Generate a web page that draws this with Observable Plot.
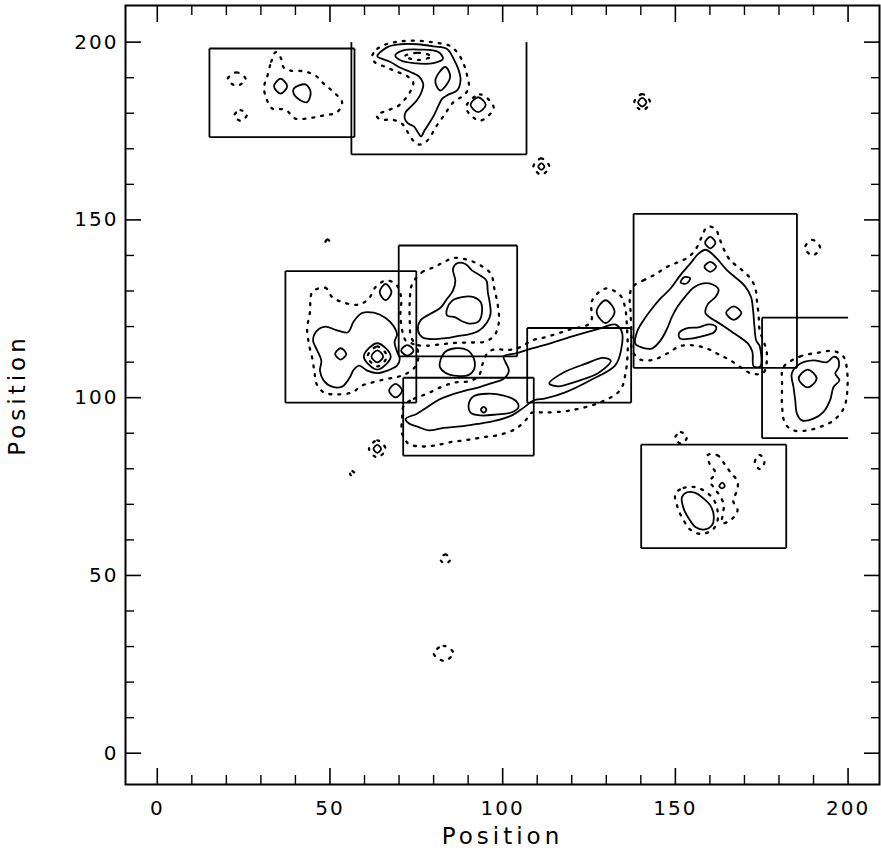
<!DOCTYPE html>
<html><head><meta charset="utf-8">
<script src="https://cdn.jsdelivr.net/npm/d3@7"></script>
<script src="https://cdn.jsdelivr.net/npm/@observablehq/plot@0.6"></script>
<style>
html,body{margin:0;padding:0;background:#fff;}
#chart svg{display:block;}
#chart g[aria-label="text"] text{letter-spacing:4px;}
#chart g[aria-label$="tick label"] text{letter-spacing:2px;}
</style></head><body><div id="chart"></div>
<script>
// ---- axis ticks ----
const tickMajor = [0, 50, 100, 150, 200];
const tickMinor = [10, 20, 30, 40, 60, 70, 80, 90, 110, 120, 130, 140, 160, 170, 180, 190];
const axisTitle = "Position";
const plotLimit = 200;

// ---- boxes (x1, x2, y1, y2) ----
const boxX1 = [15.1, 56.2, 37.1, 69.9, 71.2, 107.1, 137.9, 175.1, 140.1];
const boxX2 = [57.1, 106.9, 75.0, 104.2, 109.0, 137.2, 185.2, 200, 182.1];
const boxY1 = [173.3, 168.4, 98.6, 111.6, 83.7, 98.6, 108.4, 88.6, 57.7];
const boxY2 = [198.2, 200, 135.6, 142.8, 105.6, 119.6, 151.7, 122.5, 86.8];

// ---- solid contours ----
const solidBox1a = [[33.8,187.6],[35.7,189.7],[37.6,187.6],[35.7,185.5]];
const solidBox1b = [[39.5,186.9],[42.9,188.1],[44.4,186.0],[43.4,183.1],[41.5,183.6],[39.5,185.5]];
const solidBox2Main = [[63.7,196.0],[66.6,198.6],[70.4,199.4],[75.3,199.4],[80.1,198.8],[83.9,198.1],[85.8,195.3],[87.3,192.0],[87.8,189.2],[86.8,186.4],[84.4,185.3],[82.5,184.1],[81.2,181.7],[80.1,179.4],[78.6,177.0],[77.4,175.2],[76.4,173.5],[75.4,174.7],[74.3,176.3],[72.5,177.2],[71.6,178.7],[71.9,180.3],[73.5,181.9],[75.1,183.6],[76.4,185.7],[77.0,188.3],[75.7,190.4],[73.3,191.6],[70.4,192.8],[67.5,194.4],[65.1,195.3]];
const solidBox2Oval = [[68.9,196.3],[71.3,197.7],[76.1,197.9],[81.4,197.2],[82.7,195.3],[80.0,194.1],[74.2,194.1],[70.4,194.9]];
const solidBox2Right = [[83.4,193.0],[84.8,190.2],[81.9,186.4],[80.5,189.2]];
const solidBox2Spot = [[90.7,182.4],[92.9,184.5],[95.1,182.4],[92.9,180.3]];
const solidBox3Main = [[46.3,118.9],[48.7,120.0],[51.6,119.1],[55.2,118.4],[56.9,121.5],[59.3,123.8],[62.7,123.9],[66.1,122.4],[68.3,120.3],[69.4,117.8],[68.7,115.6],[69.3,113.3],[70.2,110.9],[69.4,109.0],[66.6,107.6],[63.7,106.9],[60.8,107.6],[58.4,109.0],[56.7,107.6],[55.8,105.8],[53.5,103.1],[50.6,103.1],[48.2,104.8],[47.1,107.6],[47.5,110.4],[46.3,113.3],[45.1,116.1]];
const solidBox3Spot = [[51.5,112.3],[53.1,113.9],[54.7,112.3],[53.1,110.7]];
const solidBox3Top = [[64.4,129.7],[66.1,132.0],[67.8,129.7],[66.1,127.4]];
const solidRingOuter = [[59.8,111.6],[63.7,115.3],[67.6,111.6],[63.7,107.9]];
const solidRingInner = [[62.0,111.6],[63.7,113.3],[65.4,111.6],[63.7,109.9]];
const solidSpotA = [[70.6,113.3],[72.4,114.8],[74.2,113.3],[72.4,111.8]];
const solidSpotB = [[67.1,102.0],[69.0,103.9],[70.9,102.0],[69.0,100.1]];
const solidBox4Outer = [[75.5,118.9],[76.2,121.7],[79.1,123.6],[82.0,125.3],[83.9,127.8],[85.6,130.1],[86.3,132.9],[85.6,136.2],[86.8,137.8],[89.2,137.6],[91.1,135.8],[93.6,134.3],[95.3,132.9],[95.7,129.7],[96.3,126.4],[96.5,123.6],[95.5,121.2],[93.1,118.8],[90.2,117.8],[87.3,117.4],[84.9,116.9],[82.0,116.6],[78.9,116.5],[76.7,117.0]];
const solidBox4Inner = [[83.9,125.0],[85.4,127.3],[88.2,128.3],[91.6,128.3],[93.6,126.9],[94.0,124.0],[93.1,121.5],[90.7,120.8],[88.2,121.5],[86.3,122.6],[83.9,123.1]];
const solidBlobMid = [[82.0,110.6],[83.4,112.9],[86.3,113.9],[89.7,113.4],[91.6,111.1],[91.8,108.2],[90.2,106.4],[86.8,106.1],[83.4,107.0],[81.8,108.7]];
const solidFilament = [[71.9,94.0],[75.2,95.5],[78.1,97.3],[81.5,99.4],[85.4,100.9],[89.2,102.0],[93.1,102.9],[96.9,104.1],[100.3,105.3],[101.8,107.6],[100.8,110.0],[100.3,111.6],[104.2,112.5],[108.0,113.7],[113.8,115.3],[121.1,117.5],[128.3,119.5],[132.5,120.6],[134.5,118.5],[134.3,113.5],[132.6,109.1],[125.4,104.9],[118.1,101.5],[112.4,99.8],[108.9,99.2],[106.1,97.2],[102.2,94.8],[97.4,93.4],[92.6,92.6],[87.8,91.9],[82.9,91.5],[78.6,90.8],[75.7,91.7],[72.8,92.8]];
const solidBox5Inner = [[90.2,98.3],[91.6,100.4],[95.5,101.1],[100.3,100.6],[103.7,99.2],[104.6,97.4],[102.7,95.9],[98.4,95.3],[93.6,95.0],[90.7,95.8]];
const solidBox5Spot = [[93.7,96.6],[94.5,97.4],[95.3,96.6],[94.5,95.8]];
const solidBox6Inner = [[113.5,104.0],[117.5,107.0],[123.9,109.5],[129.0,111.2],[131.3,110.4],[127.8,107.0],[121.5,104.6],[116.0,103.2]];
const solidBox6Top = [[127.2,124.2],[129.8,127.4],[132.4,124.2],[129.8,121.0]];
const solidBox7Arch = [[138.4,115.2],[138.9,118.5],[140.8,121.8],[143.2,125.0],[145.7,127.9],[148.6,130.7],[151.4,134.4],[154.3,137.7],[156.7,140.5],[158.7,141.6],[160.6,140.5],[162.5,138.6],[165.0,135.8],[167.8,133.5],[170.2,131.3],[171.9,128.3],[172.5,124.6],[172.9,119.9],[173.4,116.1],[174.4,114.5],[174.6,108.8],[172.7,108.8],[172.3,112.9],[171.2,115.0],[168.8,116.9],[166.4,118.5],[164.0,120.1],[161.6,121.6],[160.1,122.5],[158.7,123.8],[159.4,126.3],[161.6,128.3],[162.5,130.4],[160.6,131.9],[157.7,132.1],[155.3,131.0],[152.9,128.5],[150.7,125.7],[149.0,122.7],[147.6,119.4],[145.7,116.1],[143.2,113.8],[140.4,114.1]];
const solidBox7Low = [[151.0,118.0],[153.0,119.4],[156.7,119.8],[159.8,120.6],[161.8,119.9],[161.2,118.4],[158.2,117.4],[154.3,116.6],[151.4,116.6]];
const solidBox7SpotA = [[158.6,143.6],[160.1,145.2],[161.6,143.6],[160.1,142.0]];
const solidBox7SpotB = [[158.4,136.8],[160.1,138.2],[161.8,136.8],[160.1,135.4]];
const solidBox7SpotC = [[151.5,132.4],[152.6,133.9],[154.3,133.6],[153.2,132.1]];
const solidBox7SpotD = [[164.7,123.8],[166.9,125.7],[169.1,123.8],[166.9,121.9]];
const solidBox8Outer = [[183.7,106.8],[186.2,109.6],[190.0,110.5],[193.9,110.0],[195.8,111.5],[197.0,111.0],[197.3,108.6],[196.3,106.8],[197.5,104.9],[195.8,103.0],[194.8,99.3],[192.9,96.0],[190.0,94.1],[186.6,93.6],[185.2,95.5],[184.7,99.3],[184.2,103.0]];
const solidBox8Inner = [[185.7,105.4],[188.3,107.9],[190.9,105.4],[188.3,102.9]];
const solidBox9Blob = [[151.9,72.0],[153.4,73.4],[155.8,73.2],[158.2,71.6],[160.1,69.7],[161.1,66.9],[160.6,64.1],[158.2,62.9],[155.8,63.6],[153.9,66.0],[152.4,68.8]];
const solidBox9Spot = [[162.7,75.1],[163.6,76.1],[164.3,75.1],[163.5,74.5]];
const solidSpotLow = [[62.6,85.6],[63.7,86.7],[64.8,85.6],[63.7,84.5]];
const solidSpot165 = [[110.3,165.0],[111.2,165.9],[112.1,165.0],[111.2,164.1]];
const solidSpot183 = [[139.2,183.1],[140.4,184.3],[141.6,183.1],[140.4,181.9]];

// ---- dotted contours ----
const dotBox1a = [[20.4,189.6],[23.0,191.5],[25.6,189.6],[23.0,187.7]];
const dotBox1b = [[22.3,179.4],[24.1,180.9],[25.9,179.4],[24.1,177.9]];
const dotBox1Main = [[31.8,190.2],[33.0,194.5],[34.3,197.2],[35.8,195.5],[36.5,193.0],[38.6,192.0],[42.4,191.8],[45.8,190.6],[48.2,188.3],[51.1,185.9],[53.5,183.1],[52.1,180.3],[48.2,179.4],[44.4,178.7],[40.0,178.5],[37.1,181.0],[33.3,181.3],[31.6,184.1],[30.9,187.3]];
const dotBox2Main = [[62.2,196.0],[63.7,198.1],[66.6,199.5],[70.4,200.2],[75.3,200.4],[80.1,199.9],[84.4,199.1],[86.8,197.2],[88.7,193.9],[89.7,190.6],[90.2,187.3],[88.7,185.0],[86.3,183.6],[84.7,181.9],[83.4,179.9],[82.0,178.0],[80.5,175.9],[79.3,173.8],[77.7,171.9],[75.7,171.2],[74.1,172.3],[72.5,174.7],[70.9,177.0],[68.0,178.2],[64.6,178.2],[63.5,179.4],[66.1,180.6],[69.5,181.9],[71.6,183.8],[73.3,186.2],[74.1,188.7],[72.4,190.4],[69.0,191.8],[65.6,193.2],[62.9,194.4]];
const dotBox2Oval = [[71.5,196.0],[75.5,197.0],[79.5,196.0],[75.5,195.0]];
const dotBox2Ring = [[89.4,181.6],[93.4,185.3],[97.4,181.6],[93.4,177.9]];
const dotRing165 = [[108.9,165.0],[111.2,167.3],[113.5,165.0],[111.2,162.7]];
const dotRing183 = [[138.1,183.1],[140.4,185.4],[142.7,183.1],[140.4,180.8]];
const dotTiny144 = [[48.7,143.9],[49.3,144.5],[49.9,143.9],[49.3,143.3]];
const dotRing142 = [[187.5,142.2],[189.7,144.4],[191.9,142.2],[189.7,140.0]];
const dotBox3Main = [[44.9,129.7],[48.7,130.9],[50.6,128.3],[54.5,126.6],[58.4,126.2],[61.2,127.8],[63.2,131.1],[66.1,132.9],[69.0,132.0],[70.6,128.3],[70.4,123.6],[70.9,118.9],[71.9,116.1],[74.8,114.6],[75.6,111.5],[74.5,108.5],[71.8,106.6],[69.4,105.8],[66.5,105.3],[62.7,104.4],[59.3,103.4],[56.4,101.5],[52.1,100.9],[48.2,101.5],[46.1,103.9],[45.5,107.2],[44.9,110.9],[43.9,115.1],[43.4,119.4],[44.2,124.0]];
const dotRingMid = [[60.9,111.6],[63.7,114.4],[66.5,111.6],[63.7,108.8]];
const dotBox4Main = [[73.8,132.0],[76.7,135.3],[80.1,136.7],[82.9,138.1],[85.8,139.3],[89.7,138.8],[93.6,137.2],[96.6,134.8],[97.6,130.6],[98.6,125.9],[98.9,121.2],[97.6,117.5],[95.0,115.8],[90.7,115.5],[86.3,115.4],[82.0,115.0],[78.1,114.6],[75.2,114.9],[73.5,117.0],[73.1,121.7],[73.1,126.9]];
const dotFilament = [[71.4,97.8],[74.3,99.7],[78.1,101.1],[82.0,102.9],[85.8,104.2],[90.0,104.6],[93.0,106.0],[94.2,109.5],[95.8,112.8],[98.0,113.6],[101.3,113.4],[105.1,114.2],[108.5,116.1],[112.4,117.0],[119.6,119.2],[125.4,121.1],[125.9,127.3],[129.8,130.7],[134.1,128.7],[135.5,125.0],[136.0,119.5],[136.2,113.0],[135.6,107.0],[134.0,102.1],[128.3,98.7],[119.6,96.4],[112.4,95.8],[108.5,95.8],[106.6,93.6],[103.7,91.2],[99.3,89.6],[94.5,88.9],[89.7,88.1],[84.9,87.5],[80.1,86.5],[76.2,86.3],[72.8,87.0],[70.9,89.8],[70.9,94.5]];
const dotBox7Main = [[137.5,131.1],[140.8,133.0],[144.2,134.7],[147.6,136.8],[151.0,138.2],[153.9,139.6],[156.3,142.4],[157.7,145.4],[159.2,148.0],[161.6,147.5],[162.8,144.7],[164.2,141.4],[165.9,138.6],[168.8,136.3],[171.5,133.8],[173.1,131.0],[173.6,127.4],[174.1,123.2],[174.4,119.0],[175.6,115.7],[176.5,112.4],[175.5,107.0],[172.0,106.8],[169.8,108.0],[165.9,110.5],[162.5,112.2],[159.2,113.8],[155.3,114.7],[151.4,114.5],[147.6,112.4],[143.7,110.7],[139.9,110.7],[137.5,113.3],[137.3,118.0],[137.0,124.6],[136.8,128.3]];
const dotBox8Main = [[181.3,108.6],[186.2,111.6],[191.0,112.6],[195.8,113.1],[198.7,111.5],[199.7,107.7],[199.7,101.1],[198.7,96.9],[195.8,93.6],[192.0,91.8],[188.1,90.8],[184.2,90.8],[181.8,92.7],[180.9,97.4],[180.9,103.0]];
const dotBox9Blob = [[150.0,73.0],[152.4,74.6],[155.3,74.9],[158.2,73.9],[160.9,71.6],[162.2,68.3],[162.1,65.0],[160.6,62.7],[157.2,61.7],[154.3,62.9],[152.4,65.5],[150.7,69.0]];
const dotBox9Right = [[159.4,83.9],[162.2,83.8],[164.2,81.4],[166.1,78.8],[168.0,76.5],[167.8,73.7],[166.7,71.1],[168.0,68.3],[166.4,65.9],[163.5,64.7],[163.8,67.5],[164.0,70.0],[162.8,72.5],[161.0,74.9],[160.0,76.5],[161.6,78.8],[159.9,81.4]];
const dotBox9Ring = [[173.0,81.9],[174.4,83.9],[175.8,81.9],[174.4,79.9]];
const dotBox9Top = [[149.9,88.7],[151.6,90.3],[153.3,88.7],[151.6,87.1]];
const dotRingLow = [[61.3,85.6],[63.7,88.0],[66.1,85.6],[63.7,83.2]];
const dotTiny79 = [[55.8,78.6],[56.5,79.3],[57.2,78.6],[56.5,77.9]];
const dotRing55 = [[81.9,54.6],[83.4,55.9],[84.9,54.6],[83.4,53.3]];
const dotRing28 = [[80.0,28.1],[82.9,30.2],[85.8,28.1],[82.9,26.0]];

const solidContours = [solidBox1a, solidBox1b, solidBox2Main, solidBox2Oval, solidBox2Right, solidBox2Spot,
  solidBox3Main, solidBox3Spot, solidBox3Top, solidRingOuter, solidRingInner, solidSpotA, solidSpotB,
  solidBox4Outer, solidBox4Inner, solidBlobMid, solidFilament, solidBox5Inner, solidBox5Spot,
  solidBox6Inner, solidBox6Top, solidBox7Arch, solidBox7Low, solidBox7SpotA, solidBox7SpotB,
  solidBox7SpotC, solidBox7SpotD, solidBox8Outer, solidBox8Inner, solidBox9Blob, solidBox9Spot,
  solidSpotLow, solidSpot165, solidSpot183];
const dottedContours = [dotBox1a, dotBox1b, dotBox1Main, dotBox2Main, dotBox2Oval, dotBox2Ring, dotRing165,
  dotRing183, dotTiny144, dotRing142, dotBox3Main, dotRingMid, dotBox4Main, dotFilament, dotBox7Main,
  dotBox8Main, dotBox9Blob, dotBox9Right, dotBox9Ring, dotBox9Top, dotRingLow, dotTiny79, dotRing55, dotRing28];

// ---- build tables ----
const toRows = list => list.flatMap((pts, i) => pts.map(([x, y]) => ({x, y, id: i})));
const edges = [];
boxX1.forEach((x1, i) => {
  const x2 = boxX2[i], y1 = boxY1[i], y2 = boxY2[i];
  edges.push({x1, y1, x2, y2: y1});
  if (y2 < plotLimit) edges.push({x1, y1: y2, x2, y2});
  edges.push({x1, y1, x2: x1, y2});
  if (x2 < plotLimit) edges.push({x1: x2, y1, x2, y2});
});

const font = "DejaVu Sans";
const chart = Plot.plot({
  width: 881, height: 861,
  marginLeft: 125, marginRight: 2, marginTop: 5, marginBottom: 77,
  x: {domain: [-9.2, 209.1]},
  y: {domain: [-8.8, 210.3]},
  style: {background: "white", color: "black", fontFamily: font},
  marks: [
    Plot.line(toRows(dottedContours), {x: "x", y: "y", z: "id", curve: "catmull-rom-closed", stroke: "black", strokeWidth: 2.3, strokeDasharray: "2,7"}),
    Plot.line(toRows(solidContours), {x: "x", y: "y", z: "id", curve: "catmull-rom-closed", stroke: "black", strokeWidth: 1.8}),
    Plot.link(edges, {x1: "x1", y1: "y1", x2: "x2", y2: "y2", stroke: "black", strokeWidth: 1.8}),
    Plot.frame({stroke: "black", strokeWidth: 2}),
    Plot.axisX(tickMajor, {anchor: "bottom", tickSize: -16, tickFormat: () => "", label: null, strokeWidth: 1.6}),
    Plot.axisX(tickMinor, {anchor: "bottom", tickSize: -9, tickFormat: () => "", label: null, strokeWidth: 1.4}),
    Plot.axisX(tickMajor, {anchor: "top", tickSize: -16, tickFormat: () => "", label: null, strokeWidth: 1.6}),
    Plot.axisX(tickMinor, {anchor: "top", tickSize: -9, tickFormat: () => "", label: null, strokeWidth: 1.4}),
    Plot.axisY(tickMajor, {anchor: "left", tickSize: -16, tickFormat: () => "", label: null, strokeWidth: 1.6}),
    Plot.axisY(tickMinor, {anchor: "left", tickSize: -9, tickFormat: () => "", label: null, strokeWidth: 1.4}),
    Plot.axisY(tickMajor, {anchor: "right", tickSize: -16, tickFormat: () => "", label: null, strokeWidth: 1.6}),
    Plot.axisY(tickMinor, {anchor: "right", tickSize: -9, tickFormat: () => "", label: null, strokeWidth: 1.4}),
    Plot.axisX(tickMajor, {anchor: "bottom", tickSize: 0, tickPadding: 16, fontSize: 20, label: null}),
    Plot.axisY(tickMajor, {anchor: "left", tickSize: 0, tickPadding: 7, fontSize: 20, label: null}),
    Plot.text([axisTitle], {frameAnchor: "bottom", dy: 59, text: d => d, fontSize: 23, textAnchor: "middle"}),
    Plot.text([axisTitle], {frameAnchor: "left", dx: -108, rotate: -90, text: d => d, fontSize: 23, textAnchor: "middle"})
  ]
});
document.getElementById("chart").appendChild(chart);
</script>
</body></html>
